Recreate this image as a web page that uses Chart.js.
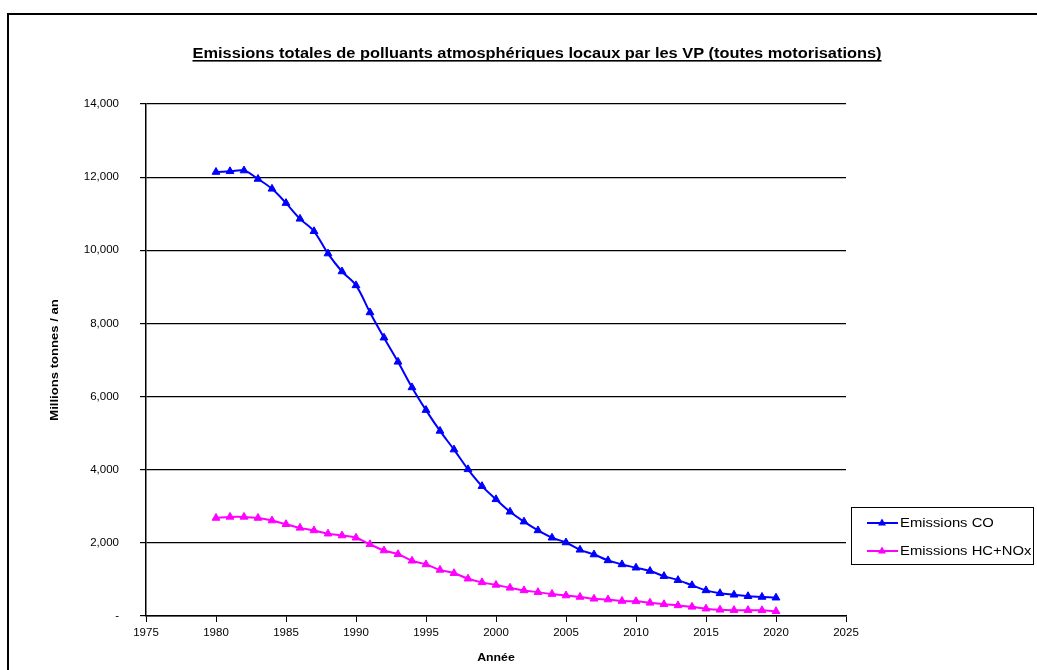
<!DOCTYPE html>
<html>
<head>
<meta charset="utf-8">
<script src="https://cdn.jsdelivr.net/npm/chart.js@4.4.1/dist/chart.umd.min.js"></script>
<style>
  html, body { margin: 0; padding: 0; background: #fff; }
  #wrap { width: 1037px; height: 670px; }
</style>
</head>
<body>
<div id="wrap"><canvas id="c" width="1037" height="670"></canvas></div>
<script>
// Années et émissions annuelles (millions de tonnes / an)
const years = [1980, 1981, 1982, 1983, 1984, 1985, 1986, 1987, 1988, 1989,
               1990, 1991, 1992, 1993, 1994, 1995, 1996, 1997, 1998, 1999,
               2000, 2001, 2002, 2003, 2004, 2005, 2006, 2007, 2008, 2009,
               2010, 2011, 2012, 2013, 2014, 2015, 2016, 2017, 2018, 2019, 2020];

const emissionsCO = [12140, 12160, 12180, 11950, 11680, 11290, 10860, 10520, 9910, 9420,
                     9040, 8300, 7610, 6950, 6250, 5630, 5060, 4550, 4010, 3550,
                     3190, 2850, 2580, 2340, 2140, 2010, 1810, 1680, 1520, 1410,
                     1320, 1230, 1090, 980, 840, 700, 620, 580, 540, 520, 500];

const emissionsHCNOx = [2680, 2710, 2710, 2680, 2610, 2510, 2410, 2340, 2250, 2200,
                        2140, 1960, 1790, 1690, 1510, 1410, 1260, 1170, 1020, 920,
                        850, 770, 700, 650, 600, 560, 520, 470, 450, 410,
                        400, 360, 320, 290, 250, 200, 170, 160, 160, 155, 130];

const seriesLabels = ['Emissions CO', 'Emissions HC+NOx'];
const seriesColors = ['#0000FF', '#FF00FF'];

const chartTitle = 'Emissions totales de polluants atmosphériques locaux par les VP (toutes motorisations)';
const yAxisTitle = 'Millions tonnes / an';
const xAxisTitle = 'Année';

const xRange = { min: 1975, max: 2025, step: 5 };
const yRange = { min: 0, max: 14000, step: 2000 };

const FONT = '"Liberation Sans", Arial, sans-serif';

const toPoints = vals => years.map((y, i) => ({ x: y, y: vals[i] }));

// Texte légèrement élargi horizontalement
function wideText(ctx, text, x, y, sx, rot) {
  ctx.save();
  ctx.translate(x, y);
  if (rot) ctx.rotate(rot);
  ctx.scale(sx, 1);
  ctx.fillText(text, 0, 0);
  ctx.restore();
}

// Cadre extérieur, titres, légende encadrée
const decorations = {
  id: 'decorations',
  beforeDraw(chart) {
    const ctx = chart.ctx;
    ctx.save();
    ctx.fillStyle = '#fff';
    ctx.fillRect(0, 0, chart.width, chart.height);
    ctx.strokeStyle = '#000';
    ctx.lineWidth = 2;
    ctx.beginPath();
    ctx.moveTo(8, chart.height + 2);
    ctx.lineTo(8, 14);
    ctx.lineTo(chart.width + 2, 14);
    ctx.stroke();
    ctx.restore();
  },
  afterDraw(chart) {
    const ctx = chart.ctx;
    const area = chart.chartArea;
    ctx.save();
    ctx.fillStyle = '#000';

    // titre souligné
    const tsx = 1.17;
    ctx.font = 'bold 14px ' + FONT;
    ctx.textAlign = 'center';
    ctx.textBaseline = 'alphabetic';
    const tx = 537, ty = 58;
    wideText(ctx, chartTitle, tx, ty, tsx);
    const w = ctx.measureText(chartTitle).width * tsx;
    ctx.fillRect(tx - w / 2, ty + 2, w, 1.6);

    // titres des axes
    ctx.font = 'bold 11px ' + FONT;
    ctx.textBaseline = 'middle';
    wideText(ctx, yAxisTitle, 55, (area.top + area.bottom) / 2, 1.19, -Math.PI / 2);
    wideText(ctx, xAxisTitle, (area.left + area.right) / 2, 658, 1.12);

    // légende
    const box = { x: 851, y: 507, w: 182, h: 57 };
    ctx.lineWidth = 1;
    ctx.strokeStyle = '#000';
    ctx.strokeRect(box.x + 0.5, box.y + 0.5, box.w, box.h);
    ctx.font = '13px ' + FONT;
    ctx.textAlign = 'left';
    chart.data.datasets.forEach((ds, i) => {
      const cy = 523 + i * 28;
      ctx.strokeStyle = ds.borderColor;
      ctx.lineWidth = 2;
      ctx.beginPath();
      ctx.moveTo(867, cy);
      ctx.lineTo(898, cy);
      ctx.stroke();
      ctx.fillStyle = ds.pointBackgroundColor;
      ctx.beginPath();
      ctx.moveTo(882, cy - 4.5);
      ctx.lineTo(882 + 4, cy + 2.5);
      ctx.lineTo(882 - 4, cy + 2.5);
      ctx.closePath();
      ctx.fill();
      ctx.fillStyle = '#000';
      wideText(ctx, ds.label, 900, cy + 0.5, 1.14);
    });
    ctx.restore();
  }
};

const datasets = [emissionsCO, emissionsHCNOx].map((vals, i) => ({
  label: seriesLabels[i],
  data: toPoints(vals),
  borderColor: seriesColors[i],
  backgroundColor: seriesColors[i],
  pointBackgroundColor: seriesColors[i],
  pointBorderColor: seriesColors[i],
  borderWidth: 2,
  pointStyle: 'triangle',
  pointRadius: 4.5,
  pointBorderWidth: 1,
  tension: 0.35,
  fill: false
}));

new Chart(document.getElementById('c'), {
  type: 'line',
  data: { datasets },
  plugins: [decorations],
  options: {
    responsive: false,
    animation: false,
    devicePixelRatio: 1,
    layout: { padding: { left: 0, top: 104, right: 191, bottom: 0 } },
    plugins: {
      legend: { display: false },
      title: { display: false },
      tooltip: { enabled: false }
    },
    scales: {
      x: {
        type: 'linear',
        min: xRange.min,
        max: xRange.max,
        afterFit(scale) { scale.height = 54; },
        ticks: {
          stepSize: xRange.step,
          color: '#000',
          font: { family: FONT, size: 11.5 },
          padding: 4,
          maxRotation: 0,
          callback: v => String(v)
        },
        grid: { drawOnChartArea: false, drawTicks: true, tickLength: 6, color: '#000', lineWidth: 1 },
        border: { display: true, color: '#000', width: 1.5 },
        title: { display: false }
      },
      y: {
        min: yRange.min,
        max: yRange.max,
        afterFit(scale) { scale.width = 146; },
        ticks: {
          stepSize: yRange.step,
          color: '#000',
          font: { family: FONT, size: 11.5 },
          padding: 21,
          callback: v => v === 0 ? '-' : v.toLocaleString('en-US')
        },
        grid: { color: '#000', lineWidth: 1.2, tickLength: 6, drawTicks: true },
        border: { display: true, color: '#000', width: 1.5 },
        title: { display: false }
      }
    }
  }
});
</script>
</body>
</html>
